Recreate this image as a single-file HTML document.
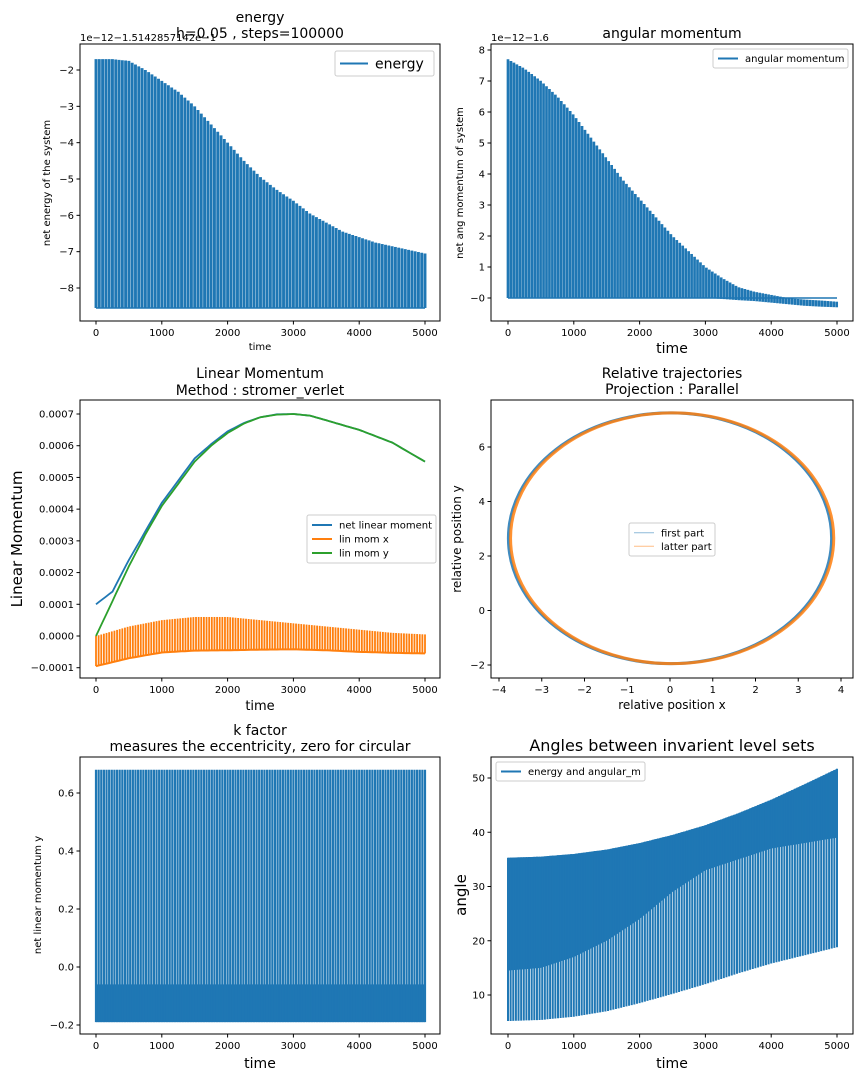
<!DOCTYPE html>
<html><head><meta charset="utf-8"><style>
html,body{margin:0;padding:0;background:#fff;}
svg{display:block;font-family:"DejaVu Sans","Liberation Sans",sans-serif;}
text{fill:#000;}
</style></head><body>
<svg id="fig" width="864" height="1080" viewBox="0 0 864 1080">
<rect width="864" height="1080" fill="#fff"/>
<g id="root"></g>
</svg>
<script>
// ---- data ----
const timeKnots = [0,250,500,750,1000,1250,1500,1750,2000,2250,2500,2750,3000,3250,3500,3750,4000,4250,4500,4750,5000];
const energyUpper = [-1.7,-1.7,-1.75,-2.0,-2.3,-2.6,-3.0,-3.5,-4.0,-4.5,-4.95,-5.3,-5.6,-5.95,-6.2,-6.45,-6.6,-6.75,-6.85,-6.95,-7.05];
const energyLower = [-8.55,-8.55,-8.55,-8.55,-8.55,-8.55,-8.55,-8.55,-8.55,-8.55,-8.55,-8.55,-8.55,-8.55,-8.55,-8.55,-8.55,-8.55,-8.55,-8.55,-8.55];
const angUpper = [7.7,7.4,7.0,6.5,5.9,5.2,4.5,3.8,3.2,2.6,2.0,1.5,1.0,0.65,0.35,0.2,0.1,0.0,-0.05,-0.08,-0.12];
const angLower = [0,0,0,0,0,0,0,0,0,0,0,0,0,-0.03,-0.07,-0.1,-0.15,-0.2,-0.25,-0.28,-0.3];
const linKnots = [0,500,1000,1500,2000,2500,3000,3500,4000,4500,5000];
const linMomY = [0.0,0.00011,0.00022,0.00032,0.00041,0.00048,0.00055,0.0006,0.00064,0.00067,0.00069,0.000698,0.0007,0.000695,0.00068,0.000665,0.00065,0.00063,0.00061,0.00058,0.00055];
const netLin = [0.0001,0.00014,0.00024,0.00033,0.00042,0.00049,0.00056,0.000605,0.000645,0.000672,0.00069,0.000699,0.0007,0.000695,0.00068,0.000665,0.00065,0.00063,0.00061,0.00058,0.00055];
const linMomXUpper = [0.0,0.00003,0.00005,0.00006,0.00006,0.00005,0.00004,0.00003,0.00002,0.00001,0.000005];
const linMomXLower = [-0.000095,-0.00007,-0.000052,-0.000046,-0.000045,-0.000043,-0.000042,-0.000045,-0.00005,-0.000053,-0.000055];
const orbitCenterX = [0.0, 0.05];
const orbitCenterY = [2.65, 2.65];
const orbitRadiusX = [3.78, 3.78];
const orbitRadiusY = [4.6, 4.6];
const kUpper = [0.68,0.68,0.68,0.68,0.68,0.68,0.68,0.68,0.68,0.68,0.68];
const kLower = [-0.19,-0.19,-0.19,-0.19,-0.19,-0.19,-0.19,-0.19,-0.19,-0.19,-0.19];
const angleUpper = [35.3,35.5,36.0,36.8,38.0,39.5,41.3,43.5,46.0,48.8,51.7];
const angleMid = [14.5,15.0,17.0,20.0,24.0,29.0,33.0,35.0,37.0,38.0,39.0];
const angleLower = [5.2,5.4,6.0,7.0,8.5,10.2,12.0,14.0,15.8,17.3,18.8];
const timeTicks = [0,1000,2000,3000,4000,5000];

const NS="http://www.w3.org/2000/svg";
const root=document.getElementById('root');
function el(tag,attrs,parent,txt){const e=document.createElementNS(NS,tag);for(const k in attrs)e.setAttribute(k,attrs[k]);if(txt!==undefined)e.textContent=txt;(parent||root).appendChild(e);return e;}
function interp(ks,vs,t){for(let i=0;i<ks.length-1;i++){if(t<=ks[i+1]){const f=(t-ks[i])/(ks[i+1]-ks[i]);return vs[i]+f*(vs[i+1]-vs[i]);}}return vs[vs.length-1];}
function lin(d0,d1,p0,p1){return v=>p0+(v-d0)*(p1-p0)/(d1-d0);}

function axes(name,box,sx,sy,xt,xl,yt,yl){
  const g=el('g',{});
  
  
  const fr=el('rect',{x:box.l,y:box.t,width:box.r-box.l,height:box.b-box.t,fill:'none',stroke:'#000','stroke-width':1},g);
  
  
  xt.forEach((v,i)=>{const x=sx(v);el('line',{x1:x,x2:x,y1:box.b,y2:box.b+3.5,stroke:'#000'},g);
    const t=el('text',{x:x,y:box.b+15,'text-anchor':'middle','font-size':10},g,xl[i]);
    
    });
  yt.forEach((v,i)=>{const y=sy(v);el('line',{x1:box.l-3.5,x2:box.l,y1:y,y2:y,stroke:'#000'},g);
    const t=el('text',{x:box.l-6,y:y+3.5,'text-anchor':'end','font-size':10},g,yl[i]);
    
    });
  return g;
}
function txt(name,x,y,size,s,rot,anchor){
  const t=el('text',{x:x,y:y,'font-size':size,'text-anchor':anchor||'middle'},root,s);
  if(rot)t.setAttribute('transform','rotate(-90 '+x+' '+y+')');
  
  
  return t;
}
function legend(name,x,y,w,h,items,size,lw){
  const g=el('g',{});
  
  
  el('rect',{x:x,y:y,width:w,height:h,rx:2,fill:'#fff','fill-opacity':0.8,stroke:'#ccc'},g);
  const step=(h-6)/items.length;
  items.forEach((it,i)=>{const cy=y+3+step*(i+0.5);
    el('line',{x1:x+5,x2:x+5+size*2,y1:cy,y2:cy,stroke:it.c,'stroke-width':lw||1.5,opacity:it.o||1},g);
    const t=el('text',{x:x+12+size*2,y:cy+size*0.35,'font-size':size},g,it.t);
    
    });
}
function spikes(name,sx,sy,knots,up,lo,period,color,w){
  const g=el('g',{});
  
  
  for(let t=0;t<=5000;t+=period){
    el('line',{x1:sx(t),x2:sx(t),y1:sy(interp(knots,lo,t)),y2:sy(interp(knots,up,t)),stroke:color,'stroke-width':w},g);
  }
  return g;
}
function polyline(name,sx,sy,knots,vals,color,w,parent){
  let d='';for(let t=0;t<=5000;t+=50){d+=(d?' L':'M')+sx(t).toFixed(1)+' '+sy(interp(knots,vals,t)).toFixed(1);}
  const p=el('path',{d:d,fill:'none',stroke:color,'stroke-width':w},parent);
  
  
  return p;
}
function band(name,sx,sy,knots,a,b,color){
  let d='';for(let t=0;t<=5000;t+=50)d+=(d?' L':'M')+sx(t).toFixed(1)+' '+sy(interp(knots,a,t)).toFixed(1);
  for(let t=5000;t>=0;t-=50)d+=' L'+sx(t).toFixed(1)+' '+sy(interp(knots,b,t)).toFixed(1);
  const p=el('path',{d:d+'Z',fill:color});
  
  
}
const B='#1f77b4',O='#ff7f0e',G='#2ca02c';

// ---- plot 1: energy ----
{const box={l:80,r:440,t:44,b:321};const sx=lin(0,5000,96,425),sy=lin(-2,-8,70,288);
axes('energy-axes',box,sx,sy,timeTicks,timeTicks.map(String),[-2,-3,-4,-5,-6,-7,-8],['−2','−3','−4','−5','−6','−7','−8']);
spikes('energy-series',sx,sy,timeKnots,energyUpper,energyLower,50,B,2.9);
el('line',{x1:sx(0),x2:sx(5000),y1:sy(-8.55),y2:sy(-8.55),stroke:B,'stroke-width':1.5});
txt('energy-title',260,22,14,'energy');txt('energy-subtitle',260,38,14,'h=0.05 , steps=100000');
txt('energy-offset',80,41,10,'1e−12−1.5142857142e−1',0,'start');
txt('energy-y-title',50,183,10,'net energy of the system',1);txt('energy-x-title',260,350,10,'time');
legend('energy-legend',335,51,99,25,[{t:'energy',c:B}],14,2);}

// ---- plot 2: angular momentum ----
{const box={l:491,r:853,t:44,b:321};const sx=lin(0,5000,508,837),sy=lin(8,0,50,298);
axes('angular-momentum-axes',box,sx,sy,timeTicks,timeTicks.map(String),[8,7,6,5,4,3,2,1,0],['8','7','6','5','4','3','2','1','−0']);
spikes('angular-momentum-series',sx,sy,timeKnots,angUpper,angLower,45,B,2.7);
el('line',{x1:sx(0),x2:sx(5000),y1:sy(0),y2:sy(0),stroke:B,'stroke-width':1.5});
txt('angular-momentum-title',672,38,14,'angular momentum');
txt('angular-momentum-offset',491,41,10,'1e−12−1.6',0,'start');
txt('angular-momentum-y-title',463,183,10,'net ang momentum of system',1);txt('angular-momentum-x-title',672,353,14,'time');
legend('angular-momentum-legend',713,49,135,19,[{t:'angular momentum',c:B}],10,2);}

// ---- plot 3: linear momentum ----
{const box={l:80,r:440,t:400,b:678};const sx=lin(0,5000,96,425),sy=lin(0,0.0007,636,414);
const yt=[-0.0001,0,0.0001,0.0002,0.0003,0.0004,0.0005,0.0006,0.0007];
axes('linear-momentum-axes',box,sx,sy,timeTicks,timeTicks.map(String),yt,['−0.0001','0.0000','0.0001','0.0002','0.0003','0.0004','0.0005','0.0006','0.0007']);
spikes('lin-mom-x-series',sx,sy,linKnots,linMomXUpper,linMomXLower,40,O,1.8);
polyline('lin-mom-x-lower',sx,sy,linKnots,linMomXLower,O,2);
polyline('net-linear-moment-line',sx,sy,timeKnots,netLin,B,1.8);
polyline('lin-mom-y-line',sx,sy,timeKnots,linMomY,G,1.8);
txt('linear-momentum-title',260,378,14,'Linear Momentum');txt('linear-momentum-subtitle',260,395,14,'Method : stromer_verlet');
txt('linear-momentum-y-title',22,539,15,'Linear Momentum',1);txt('linear-momentum-x-title',260,710,13,'time');
legend('linear-momentum-legend',307,515,129,48,[{t:'net linear moment',c:B},{t:'lin mom x',c:O},{t:'lin mom y',c:G}],10,2);}

// ---- plot 4: trajectories ----
{const box={l:491,r:853,t:400,b:678};const sx=lin(-4,4,499,841),sy=lin(6,-2,447,665);
axes('trajectories-axes',box,sx,sy,[-4,-3,-2,-1,0,1,2,3,4],['−4','−3','−2','−1','0','1','2','3','4'],[-2,0,2,4,6],['−2','0','2','4','6']);
const colors=[B,O];const names=['first-part-orbit','latter-part-orbit'];
for(let i=0;i<2;i++){const e=el('ellipse',{cx:sx(orbitCenterX[i]),cy:sy(orbitCenterY[i]),rx:sx(orbitRadiusX[i])-sx(0),ry:sy(0)-sy(orbitRadiusY[i]),fill:'none',stroke:colors[i],'stroke-width':3,opacity:0.85});

}
txt('trajectories-title',672,378,14,'Relative trajectories');txt('trajectories-subtitle',672,394,14,'Projection : Parallel');
txt('trajectories-y-title',461,539,12,'relative position y',1);txt('trajectories-x-title',672,709,12,'relative position x');
legend('trajectories-legend',629,523,86,33,[{t:'first part',c:B,o:0.5},{t:'latter part',c:O,o:0.5}],10,1);}

// ---- plot 5: k factor ----
{const box={l:80,r:440,t:757,b:1034};const sx=lin(0,5000,96,425),sy=lin(0.6,-0.2,793,1025);
axes('k-factor-axes',box,sx,sy,timeTicks,timeTicks.map(String),[-0.2,0,0.2,0.4,0.6],['−0.2','0.0','0.2','0.4','0.6']);
band('k-factor-dense-band',sx,sy,linKnots,kLower.map(v=>v+0.13),kLower,B);
spikes('k-factor-series',sx,sy,linKnots,kUpper,kLower,40,B,2.2);
txt('k-factor-title',260,735,14,'k factor');txt('k-factor-subtitle',260,751,14,'measures the eccentricity, zero for circular');
txt('k-factor-y-title',41,895,10,'net linear momentum y',1);txt('k-factor-x-title',260,1068,14,'time');}

// ---- plot 6: angles ----
{const box={l:491,r:853,t:757,b:1034};const sx=lin(0,5000,508,837),sy=lin(50,10,778,995);
axes('angles-axes',box,sx,sy,timeTicks,timeTicks.map(String),[10,20,30,40,50],['10','20','30','40','50']);
band('angles-dense-band',sx,sy,linKnots,angleUpper,angleMid,B);
spikes('angles-series',sx,sy,linKnots,angleUpper,angleLower,40,B,2);
txt('angles-title',672,751,16,'Angles between invarient level sets');
txt('angles-y-title',466,895,15,'angle',1);txt('angles-x-title',672,1068,14,'time');
legend('angles-legend',496,762,149,19,[{t:'energy and angular_m',c:B}],10,2);}
</script>
</body></html>
